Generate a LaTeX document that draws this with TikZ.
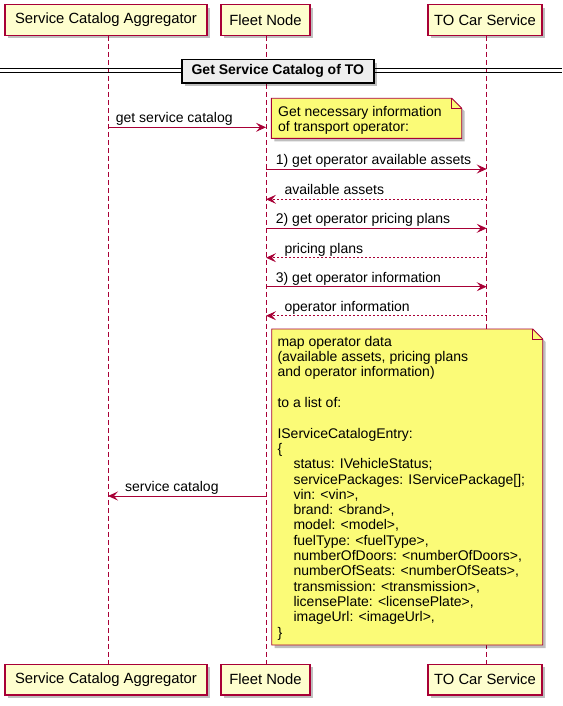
\documentclass[tikz,border=0pt]{standalone}
\usepackage{fontspec}
\setmainfont{Liberation Sans}
\usetikzlibrary{arrows.meta, shadows, positioning}
\definecolor{umlred}{HTML}{A80036}
\definecolor{umlbox}{HTML}{FEFECE}
\definecolor{umlnote}{HTML}{FBFB77}
\definecolor{umlsep}{HTML}{EEEEEE}
\tikzset{
	actor/.style={draw=umlred, fill=umlbox, line width=1.3pt, minimum height=30.5pt,
		font=\fontsize{14.8}{17}\selectfont,
		drop shadow={shadow xshift=3pt, shadow yshift=-3pt, opacity=0.25, fill=black}},
	sepbox/.style={draw=black, fill=umlsep, line width=1.4pt, minimum height=23.5pt,
		font=\fontsize{14}{16}\selectfont\bfseries,
		drop shadow={shadow xshift=3pt, shadow yshift=-3pt, opacity=0.25, fill=black}},
	life/.style={draw=umlred, line width=0.8pt, dash pattern=on 5pt off 3pt},
	msg/.style={draw=umlred, line width=0.9pt, -{Stealth[length=10pt, width=9pt, inset=4pt]}},
	reply/.style={msg, dash pattern=on 2pt off 2pt},
	lbl/.style={font=\fontsize{14}{15.3}\selectfont, inner sep=0pt, anchor=base west},
	notetext/.style={font=\fontsize{14}{15.3}\selectfont, inner sep=0pt, anchor=north west, align=left},
}
% note with a folded corner: \notebox{x1}{y1}{x2}{y2}
\newcommand\notebox[4]{%
	\fill[black, opacity=0.25] (#1+3,#2+3) -- (#3-7,#2+3) -- (#3+3,#2+13) -- (#3+3,#4+3) -- (#1+3,#4+3) -- cycle;
	\draw[umlred, fill=umlnote, line width=0.9pt] (#1,#2) -- (#3-10,#2) -- (#3,#2+10) -- (#3,#4) -- (#1,#4) -- cycle;
	\draw[umlred, line width=0.9pt] (#3-10,#2) -- (#3-10,#2+10) -- (#3,#2+10);
}
\newcommand\ind{\hspace*{16pt}}

\begin{document}
\begin{tikzpicture}[x=1pt, y=-1pt]
	\path [use as bounding box] (0,0) rectangle (562,706);
	% participants, top and bottom
	\node[actor, minimum width=202pt] (sca) at (106,20) {Service Catalog Aggregator};
	\node[actor, minimum width=89pt] (fleet) at (265.5,20) {Fleet Node};
	\node[actor, minimum width=114pt] (tocs) at (485,20) {TO Car Service};
	\node[actor, minimum width=202pt] (scaB) at (106,679.7) {Service Catalog Aggregator};
	\node[actor, minimum width=89pt] (fleetB) at (265.5,679.7) {Fleet Node};
	\node[actor, minimum width=114pt] (tocsB) at (485,679.7) {TO Car Service};
	% lifelines
	\coordinate (scaL) at (108,0);
	\coordinate (fleetL) at (266,0);
	\coordinate (tocsL) at (486.7,0);
	\draw[life] (scaL |- sca.south) -- (scaL |- scaB.north);
	\draw[life] (fleetL |- fleet.south) -- (fleetL |- fleetB.north);
	\draw[life] (tocsL |- tocs.south) -- (tocsL |- tocsB.north);
	% divider
	\draw[line width=0.9pt] (0,68.5) -- (562,68.5) (0,72) -- (562,72);
	\node[sepbox, minimum width=192pt] (sep) at (277.8,71.3) {Get Service Catalog of TO};
	% message rows
	\coordinate (r0) at (0,127.3);
	\coordinate (r1) at (0,169);
	\coordinate (r2) at (0,199.3);
	\coordinate (r3) at (0,228.3);
	\coordinate (r4) at (0,257.7);
	\coordinate (r5) at (0,286.7);
	\coordinate (r6) at (0,315.7);
	\coordinate (r7) at (0,496);
	\draw[msg] (scaL |- r0) -- (fleetL |- r0);
	\node[lbl] (l0) at (115.7,122.8) {get service catalog};
	\notebox{271.3}{98.3}{461.7}{138.3}
	\node[notetext] (n1) at (278,106) {Get necessary information\\of transport operator:};
	\draw[msg] (fleetL |- r1) -- (tocsL |- r1);
	\node[lbl] (l1) at (275.7,164.5) {1) get operator available assets};
	\draw[reply] (tocsL |- r2) -- (fleetL |- r2);
	\node[lbl] (l2) at (284.3,194.8) {available assets};
	\draw[msg] (fleetL |- r3) -- (tocsL |- r3);
	\node[lbl] (l3) at (275.7,223.8) {2) get operator pricing plans};
	\draw[reply] (tocsL |- r4) -- (fleetL |- r4);
	\node[lbl] (l4) at (284.3,253.2) {pricing plans};
	\draw[msg] (fleetL |- r5) -- (tocsL |- r5);
	\node[lbl] (l5) at (275.7,282.2) {3) get operator information};
	\draw[reply] (tocsL |- r6) -- (fleetL |- r6);
	\node[lbl] (l6) at (284.3,311.2) {operator information};
	% mapping note
	\notebox{271.7}{329}{542.7}{645}
	\node[notetext] (n2) at (277.3,336) {map operator data\\(available assets, pricing plans\\and operator information)\\[15.3pt]
		to a list of:\\[15.3pt]
		IServiceCatalogEntry:\\\{\\
		\ind status: IVehicleStatus;\\
		\ind servicePackages: IServicePackage[];\\
		\ind vin: <vin>,\\
		\ind brand: <brand>,\\
		\ind model: <model>,\\
		\ind fuelType: <fuelType>,\\
		\ind numberOfDoors: <numberOfDoors>,\\
		\ind numberOfSeats: <numberOfSeats>,\\
		\ind transmission: <transmission>,\\
		\ind licensePlate: <licensePlate>,\\
		\ind imageUrl: <imageUrl>,\\
		\}};
	\draw[msg] (fleetL |- r7) -- (scaL |- r7);
	\node[lbl] (l7) at (125,491.5) {service catalog};
\end{tikzpicture}
\end{document}
